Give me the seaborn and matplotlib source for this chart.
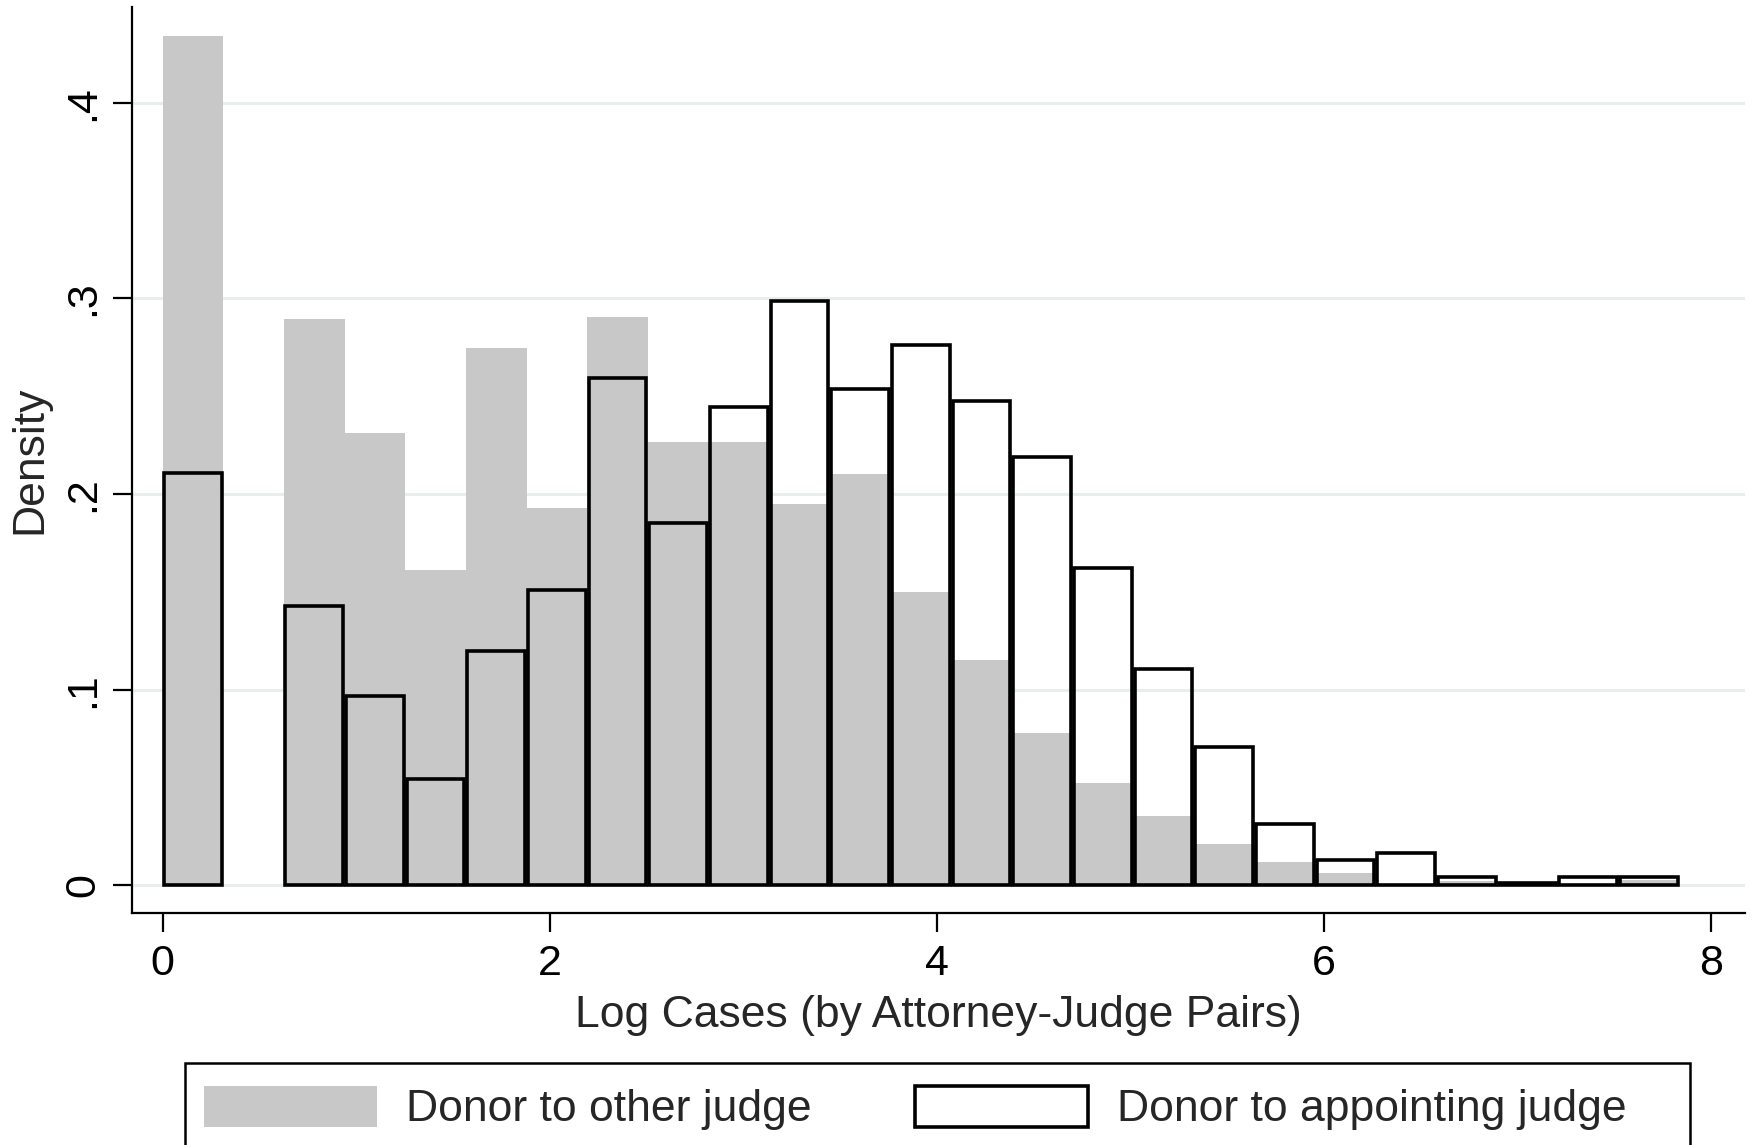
import numpy as np
import pandas as pd
import matplotlib
matplotlib.use("Agg")
import matplotlib.pyplot as plt
from matplotlib.patches import Patch, Rectangle
import seaborn as sns

# ---- data (density per bin) ----
x_min, x_max, n_bins = 0.0, 7.833, 25
other_judge = [0.434, 0.0, 0.2896, 0.2314, 0.161, 0.2744, 0.1927, 0.2906, 0.2267,
               0.2267, 0.1949, 0.2101, 0.1501, 0.115, 0.078, 0.0522, 0.0356, 0.0210,
               0.0121, 0.0065, 0.0, 0.002, 0.0, 0.0, 0.003]
appointing_judge = [0.2109, 0.0, 0.1428, 0.0968, 0.0542, 0.1198, 0.151, 0.2593, 0.185,
                    0.2446, 0.2988, 0.2535, 0.2761, 0.2477, 0.2191, 0.1624, 0.1104, 0.0709,
                    0.0312, 0.013, 0.0165, 0.0045, 0.0012, 0.0045, 0.0045]
x_ticks = [0, 2, 4, 6, 8]
y_ticks = [0, 0.1, 0.2, 0.3, 0.4]
y_ticklabels = ["0", ".1", ".2", ".3", ".4"]
legend_labels = ["Donor to other judge", "Donor to appointing judge"]
x_label = "Log Cases (by Attorney-Judge Pairs)"
y_label = "Density"

edges = [float(e) for e in np.linspace(x_min, x_max, n_bins + 1)]
centers = [(a + b) / 2 for a, b in zip(edges[:-1], edges[1:])]
df = pd.DataFrame({"x": centers, "other": other_judge, "appointing": appointing_judge})

sns.set_style("white")
plt.rcParams["font.family"] = ["Liberation Sans", "DejaVu Sans"]

GRAY = "#c8c8c8"
GRID = "#e8eeee"
LW = 2.6

fig = plt.figure(figsize=(17.58, 11.45), dpi=100)
ax = fig.add_axes([0.0751, 0.2029, 0.9175, 0.7911])

sns.histplot(data=df, x="x", weights="other", bins=edges, stat="count",
             color=GRAY, edgecolor="none", linewidth=0, alpha=1, ax=ax, zorder=2)
sns.histplot(data=df, x="x", weights="appointing", bins=edges, stat="count",
             fill=False, color="black", linewidth=LW, shrink=0.95, ax=ax, zorder=3)
for p in ax.patches:
    if p.get_height() == 0:
        p.set_visible(False)

ax.set_xlim(-0.158, 8.173)
ax.set_ylim(-0.01395, 0.449)
ax.set_xticks(x_ticks)
ax.set_xticklabels([str(t) for t in x_ticks])
ax.set_yticks(y_ticks)
ax.set_yticklabels(y_ticklabels)

ax.yaxis.grid(True, color=GRID, linewidth=2.2, zorder=0)
ax.xaxis.grid(False)
ax.set_axisbelow(True)

for s in ["top", "right"]:
    ax.spines[s].set_visible(False)
for s in ["left", "bottom"]:
    ax.spines[s].set_color("black")
    ax.spines[s].set_linewidth(1.6)

ax.tick_params(axis="both", direction="out", length=13.7, width=1.6, color="black",
               labelsize=31, labelcolor="black")
ax.tick_params(axis="x", pad=9, bottom=True)
ax.tick_params(axis="y", pad=7, left=True, labelrotation=90)
for lab in ax.get_yticklabels():
    lab.set_va("center")

ax.set_xlabel(x_label, fontsize=32, labelpad=8)
ax.set_ylabel(y_label, fontsize=32, labelpad=9)

# legend
handles = [Patch(facecolor=GRAY, edgecolor="none"),
           Patch(facecolor="white", edgecolor="black", linewidth=LW)]
fig.legend(handles, legend_labels, ncol=2, loc="center left",
           bbox_to_anchor=(204 / 1758, 1 - 1108 / 1145), frameon=False,
           fontsize=32, handlelength=3.89, handleheight=1.06, handletextpad=0.66,
           columnspacing=2.32, borderpad=0, borderaxespad=0)
fig.add_artist(Rectangle((185 / 1758, -0.05), (1689.6 - 185) / 1758,
                         (1145 - 1063) / 1145 + 0.05, transform=fig.transFigure,
                         fill=False, edgecolor="black", linewidth=1.8))

fig.savefig("out.png", dpi=100)
